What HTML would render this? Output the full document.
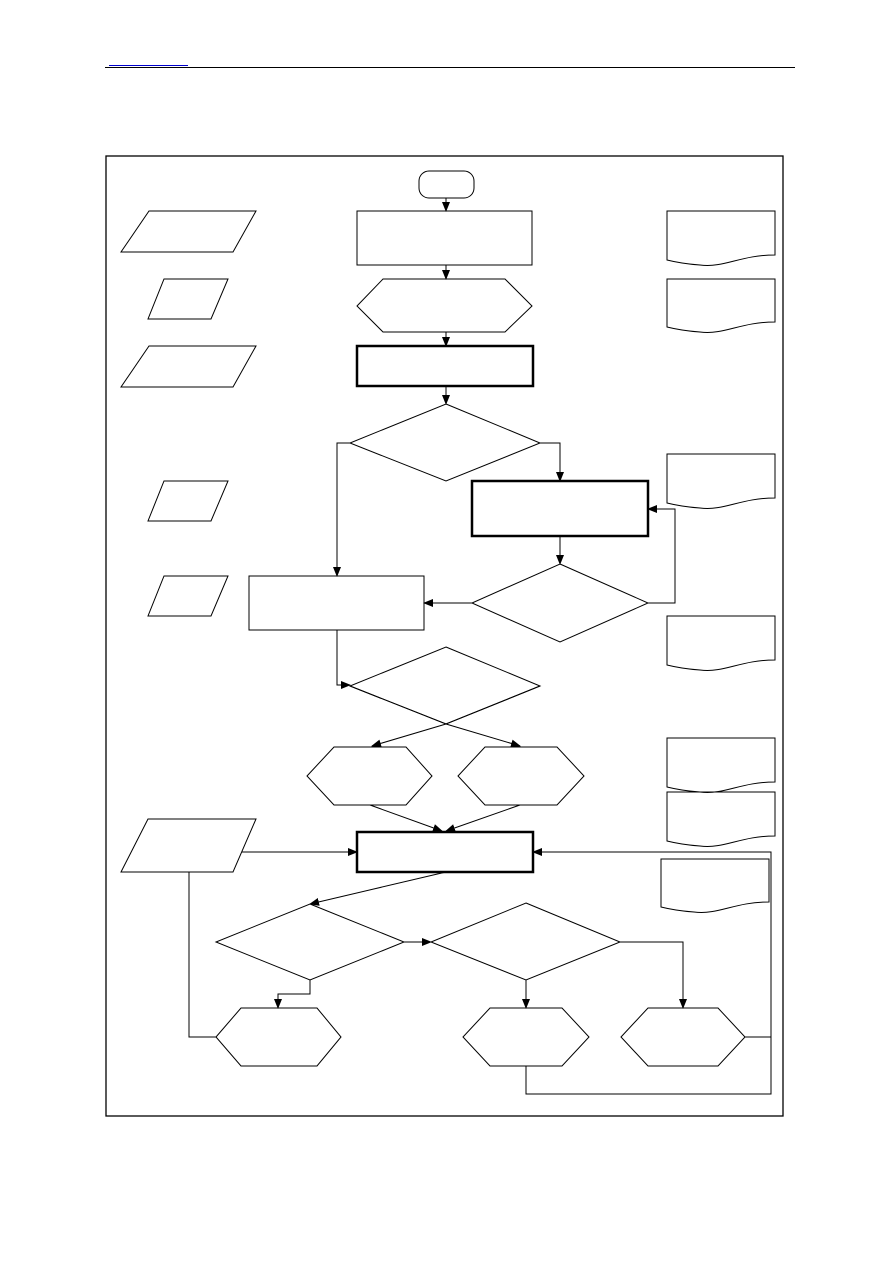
<!DOCTYPE html>
<html><head><meta charset="utf-8"><style>html,body{margin:0;padding:0;background:#fff}svg{display:block}</style></head>
<body>
<svg width="893" height="1263" viewBox="0 0 893 1263" xmlns="http://www.w3.org/2000/svg">
<defs><marker id="a" markerWidth="10" markerHeight="10" refX="9" refY="4" orient="auto" markerUnits="userSpaceOnUse"><path d="M0,0 L10,4 L0,8 z" fill="#000"/></marker></defs>
<line x1="109" y1="65.5" x2="188" y2="65.5" stroke="#00c" stroke-width="1"/>
<line x1="105" y1="67.5" x2="795" y2="67.5" stroke="#000" stroke-width="1"/>
<rect x="106" y="156" width="677" height="960" fill="none" stroke="#000" stroke-width="1.3"/>
<g fill="none" stroke="#000" stroke-width="1">
<rect x="419" y="171" width="55" height="27" rx="10"/>
<rect x="357" y="211" width="175" height="54"/>
<polygon points="357,306 383,279 505,279 532,306 505,332 383,332"/>
<rect x="357" y="346" width="176" height="40" stroke-width="2.5"/>
<polygon points="446,404 540,443 446,481 350,443"/>
<rect x="472" y="481" width="176" height="55" stroke-width="2.5"/>
<polygon points="560,564 648,603 560,642 472,603"/>
<rect x="249" y="576" width="175" height="54"/>
<polygon points="446,647 540,686 446,724 350,686"/>
<polygon points="307,776 334,747 406,747 432,776 406,805 334,805"/>
<polygon points="458,776 485,747 557,747 584,776 557,805 485,805"/>
<rect x="357" y="832" width="176" height="40" stroke-width="2.5"/>
<polygon points="148,819 256,819 233,872 121,872"/>
<polygon points="310,904 404,942 310,980 216,942"/>
<polygon points="526,903 620,942 526,980 431,942"/>
<polygon points="216,1037 241,1008 317,1008 341,1037 317,1066 241,1066"/>
<polygon points="463,1037 490,1008 562,1008 589,1037 562,1066 490,1066"/>
<polygon points="621,1037 648,1008 718,1008 745,1037 718,1066 648,1066"/>
<polygon points="149,211 256,211 233,252 121,252"/>
<polygon points="164,279 228,279 211,319 148,319"/>
<polygon points="149,346 256,346 233,387 121,387"/>
<polygon points="164,481 228,481 211,521 148,521"/>
<polygon points="164,576 228,576 211,616 148,616"/>
<path d="M667,211 H775 V255 C740,255 725,268 700,265 C685,264 675,262 667,260 Z"/>
<path d="M667,279 H775 V322 C740,322 725,335 700,332 C685,331 675,329 667,327 Z"/>
<path d="M667,454 H775 V498 C740,498 725,511 700,508 C685,507 675,505 667,503 Z"/>
<path d="M667,616 H775 V660 C740,660 725,673 700,670 C685,669 675,667 667,665 Z"/>
<path d="M667,738 H775 V782 C740,782 725,795 700,792 C685,791 675,789 667,787 Z"/>
<path d="M667,792 H775 V836 C740,836 725,849 700,846 C685,845 675,843 667,841 Z"/>
<path d="M661,859 H769 V902 C734,902 719,915 694,912 C679,911 669,909 661,907 Z"/>
</g>
<g fill="none" stroke="#000" stroke-width="1" marker-end="url(#a)">
<path d="M446,198 V211"/>
<path d="M446,265 V279"/>
<path d="M446,332 V346"/>
<path d="M446,386 V404"/>
<path d="M350,443 H337 V576"/>
<path d="M540,443 H560 V481"/>
<path d="M560,536 V564"/>
<path d="M648,603 H675 V509 H648"/>
<path d="M472,603 H424"/>
<path d="M337,630 V685 H350"/>
<path d="M446,724 L520,746"/>
<path d="M446,724 L372,746"/>
<path d="M370,805 L442,831"/>
<path d="M520,805 L446,831"/>
<path d="M242,852 H357"/>
<path d="M771,1037 V852 H533"/>
<path d="M446,872 L310,904"/>
<path d="M404,942 H431"/>
<path d="M310,980 V994 H278 V1008"/>
<path d="M526,980 V1008"/>
<path d="M620,942 H683 V1008"/>
</g>
<g fill="none" stroke="#000" stroke-width="1">
<path d="M350,686 L446,724 L540,686"/>
<path d="M189,872 V1037 H216"/>
<path d="M745,1037 H771"/>
<path d="M526,1066 V1094 H771 V1037"/>
</g>
</svg>
</body></html>
